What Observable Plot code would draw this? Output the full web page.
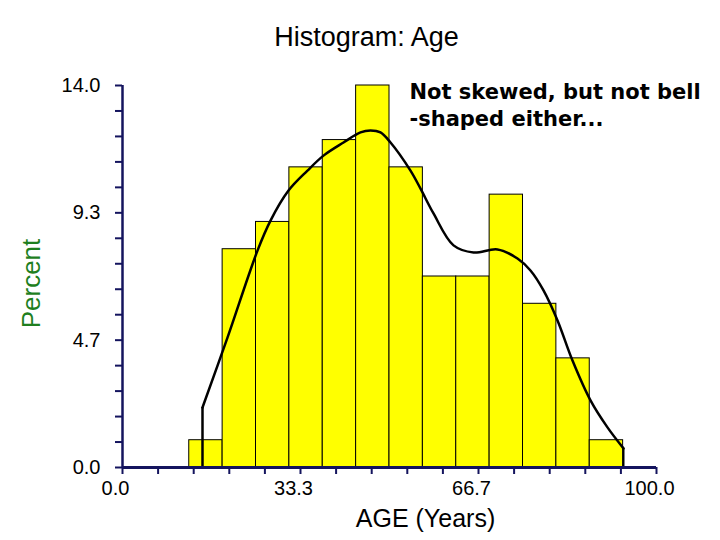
<!DOCTYPE html>
<html>
<head>
<meta charset="utf-8">
<script src="https://cdn.jsdelivr.net/npm/d3@7"></script>
<script src="https://cdn.jsdelivr.net/npm/@observablehq/plot@0.6"></script>
<style>
  html, body { margin: 0; padding: 0; background: #fff; }
  svg { font-family: "Liberation Sans", Arial, sans-serif; }
</style>
</head>
<body>
<div id="chart"></div>
<script>
// Histogram bins (AGE, years) and bar heights (percent)
const binStart = [12.5, 18.75, 25, 31.25, 37.5, 43.75, 50, 56.25, 62.5, 68.75, 75, 81.25, 87.5];
const binEnd   = [18.75, 25, 31.25, 37.5, 43.75, 50, 56.25, 62.5, 68.75, 75, 81.25, 87.5, 93.75];
const percent  = [1, 8, 9, 11, 12, 14, 11, 7, 7, 10, 6, 4, 1];

// Smooth density curve
const curveX = [14.98, 19.66, 25.28, 27.72, 31.09, 34.64, 37.64, 41.39, 44.57, 46.44, 48.31, 50.19, 53.93, 55.81, 58.24, 61.99, 65.73, 70.22, 73.97, 76.40, 78.84, 81.46, 84.27, 87.64, 90.82, 93.82];
const curveY = [2.20, 4.76, 7.95, 9.05, 10.15, 10.88, 11.43, 11.91, 12.28, 12.35, 12.28, 11.91, 10.88, 10.22, 9.31, 8.14, 7.88, 7.99, 7.66, 7.22, 6.49, 5.39, 3.92, 2.46, 1.47, 0.70];

// Axis ticks and labels
const xTicks = d3.range(16).map(i => i * 100 / 15);
const yTicks = d3.range(16).map(i => i * 14 / 15);
const xLabelValues = [0, 100 / 3, 200 / 3, 100];
const xTickLabels = ["0.0", "33.3", "66.7", "100.0"];
const yLabelValues = [0, 14 / 3, 28 / 3, 14];
const yTickLabels = ["0.0", "4.7", "9.3", "14.0"];

const title = "Histogram: Age";
const xTitle = "AGE (Years)";
const yTitle = "Percent";
const note1 = "Not skewed, but not bell";
const note2 = "-shaped either...";

const bars = binStart.map((b, i) => ({x1: b, x2: binEnd[i], y: percent[i]}));
const curve = curveX.map((x, i) => ({x, y: curveY[i]}));
const navy = "#14145e";

const chart = Plot.plot({
  width: 720,
  height: 540,
  marginLeft: 122,
  marginRight: 64,
  marginTop: 85,
  marginBottom: 73,
  x: {domain: [0, 100], axis: null},
  y: {domain: [0, 14], axis: null},
  marks: [
    Plot.rectY(bars, {x1: "x1", x2: "x2", y: "y", fill: "#ffff00", stroke: "#000", strokeWidth: 1}),
    Plot.line(curve, {x: "x", y: "y", curve: "catmull-rom", stroke: "#000", strokeWidth: 2.5}),
    Plot.ruleX([curve[0]], {x: "x", y1: 0, y2: "y", stroke: "#000", strokeWidth: 2.5}),
    Plot.ruleX([curve[curve.length - 1]], {x: "x", y1: 0, y2: "y", stroke: "#000", strokeWidth: 2}),
    Plot.axisX({ticks: xTicks, tickSize: 7, tickFormat: () => "", label: null, stroke: navy, strokeWidth: 2}),
    Plot.axisY({ticks: yTicks, tickSize: 7, tickFormat: () => "", label: null, stroke: navy, strokeWidth: 2}),
    Plot.ruleY([0], {x1: 0, x2: 100, stroke: navy, strokeWidth: 3}),
    Plot.ruleX([0], {y1: 0, y2: 14, stroke: navy, strokeWidth: 2.5}),
    Plot.text(xTickLabels, {x: (d, i) => xLabelValues[i], text: d => d, frameAnchor: "bottom", lineAnchor: "top", dy: 13, dx: -7, fontSize: 20, fill: "#000"}),
    Plot.text(yTickLabels, {y: (d, i) => yLabelValues[i], text: d => d, frameAnchor: "left", textAnchor: "end", dx: -22, fontSize: 20, fill: "#000"}),
    Plot.text([title], {frameAnchor: "top", lineAnchor: "bottom", dy: -40, dx: -23, fontSize: 27, fill: "#000"}),
    Plot.text([xTitle], {frameAnchor: "bottom", lineAnchor: "bottom", dy: 59, dx: 36, fontSize: 25, fill: "#000"}),
    Plot.text([yTitle], {frameAnchor: "left", textAnchor: "middle", rotate: -90, dx: -91, dy: 7, fontSize: 26, fill: "#1f7f1f"}),
    Plot.text([note1], {frameAnchor: "top-left", textAnchor: "start", lineAnchor: "bottom", dx: 287, dy: 13, fontSize: 21, fontWeight: "bold", fontFamily: "DejaVu Sans", fill: "#000"}),
    Plot.text([note2], {frameAnchor: "top-left", textAnchor: "start", lineAnchor: "bottom", dx: 287, dy: 40, fontSize: 21, fontWeight: "bold", fontFamily: "DejaVu Sans", fill: "#000"})
  ]
});
document.getElementById("chart").appendChild(chart);
</script>
</body>
</html>
